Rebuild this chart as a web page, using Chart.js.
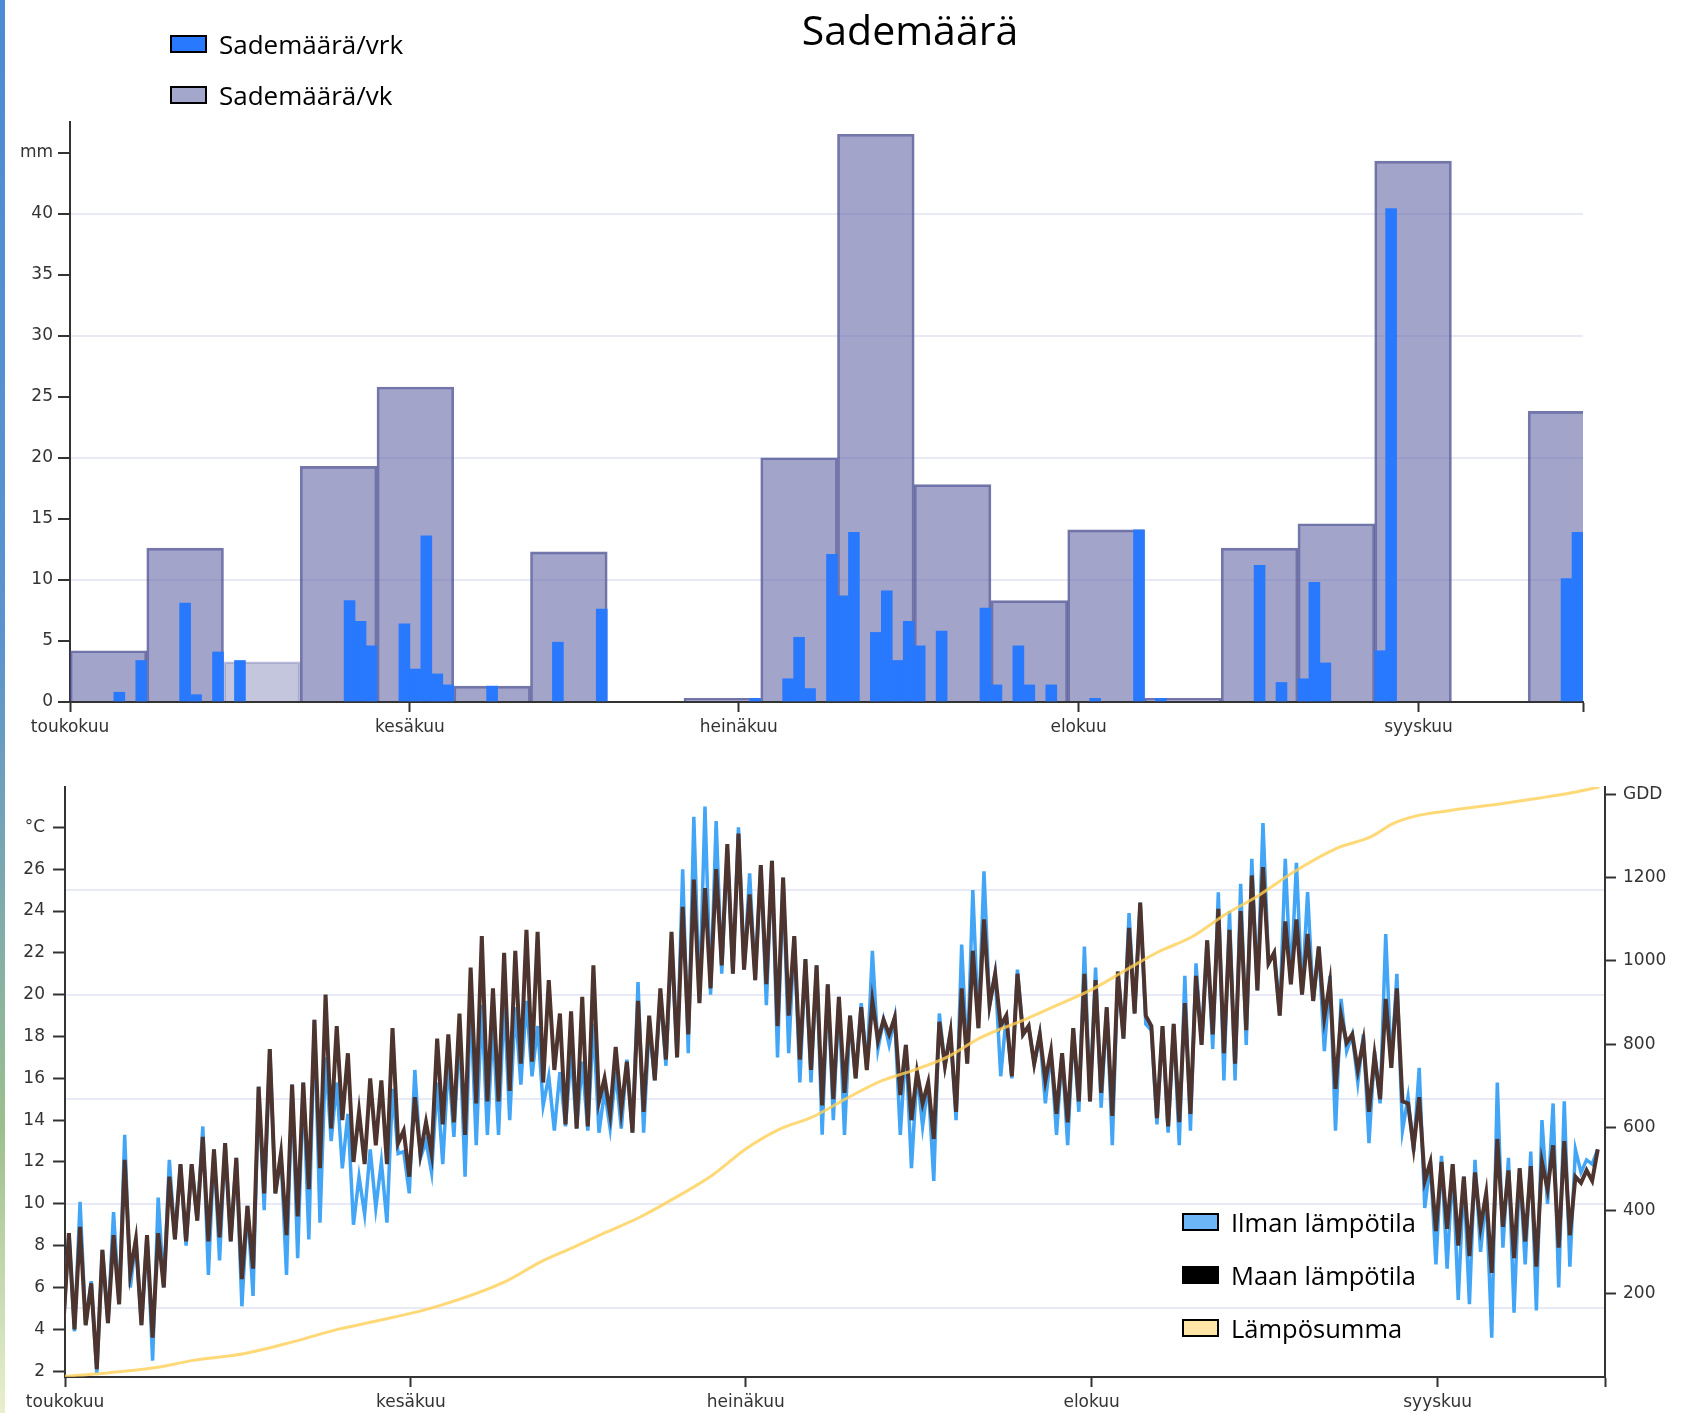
<!DOCTYPE html>
<html lang="fi">
<head>
  <meta charset="UTF-8">
  <meta name="viewport" content="width=device-width, initial-scale=1.0">
  <title>Sademäärä</title>
  <style>
    body { margin: 0; background: #fff; }
    .page { position: relative; width: 1693px; height: 1413px; overflow: hidden; font-family: "Open Sans", sans-serif; color: #000; }
    .edge { position: absolute; left: 0; top: 0; width: 5px; height: 100%; background: linear-gradient(#4c8bd5 0%, #5b93cf 45%, #9dbf8e 80%, #e9efcf 100%); }
    .chart { position: absolute; left: 0; width: 1693px; }
    #rainBox { top: 0; height: 745px; }
    #tempBox { top: 745px; height: 668px; }
    .title { position: absolute; top: 5px; left: 910px; transform: translateX(-50%); font-size: 41px; line-height: 48px; white-space: nowrap; }
    .legend { position: absolute; }
    .legend .item { display: flex; align-items: center; white-space: nowrap; }
    .legend .box { width: 37px; height: 18px; border: 2px solid #000; box-sizing: border-box; margin-right: 12px; }
    #rainLegend { left: 170px; top: 18px; font-size: 26px; }
    #rainLegend .item { height: 51px; }
    #tempLegend { left: 1182px; top: 1195px; font-size: 25.5px; }
    #tempLegend .item { height: 53px; }
  </style>
</head>
<body>
  <div class="page">
    <div class="edge"></div>
    <div class="chart" id="rainBox"><canvas id="rain"></canvas></div>
    <div class="chart" id="tempBox"><canvas id="temp"></canvas></div>
    <div class="title">Sademäärä</div>
    <div class="legend" id="rainLegend"></div>
    <div class="legend" id="tempLegend"></div>
  </div>
  <script src="https://cdn.jsdelivr.net/npm/chart.js@4/dist/chart.umd.min.js"></script>
  <script>
    // päivät laskettu 1.5. alkaen
    const monthStarts = [0, 31, 61, 92, 123];
    const monthNames = ['toukokuu', 'kesäkuu', 'heinäkuu', 'elokuu', 'syyskuu'];
    const lastDay = 138;

    // sademäärä / vrk (päivä, mm)
    const rainDays = [4, 6, 10, 11, 13, 15, 25, 26, 27, 30, 31, 32, 33, 34, 38, 44, 48, 62, 65, 66, 67, 69, 70, 71,
      73, 74, 75, 76, 77, 79, 83, 84, 86, 87, 89, 93, 97, 99, 108, 110, 112, 113, 114, 119, 120, 136, 137];
    const rainDaily = [0.8, 3.4, 8.1, 0.6, 4.1, 3.4, 8.3, 6.6, 4.6, 6.4, 2.7, 13.6, 2.3, 1.4, 1.3, 4.9, 7.6, 0.3, 1.9, 5.3, 1.1, 12.1, 8.7, 13.9,
      5.7, 9.1, 3.4, 6.6, 4.6, 5.8, 7.7, 1.4, 4.6, 1.4, 1.4, 0.3, 14.1, 0.3, 11.2, 1.6, 1.9, 9.8, 3.2, 4.2, 40.4, 10.1, 13.9];
    // sademäärä / vk
    const rainWeekly = [4.2, 12.6, 3.3, 19.3, 25.8, 1.3, 12.3, 0, 0.3, 20.0, 46.5, 17.8, 8.3, 14.1, 0.3, 12.6, 14.6, 44.3, 0, 23.8];
    const fadedWeek = 2;
    const rainTicks = [0, 5, 10, 15, 20, 25, 30, 35, 40, 45];

    // lämpötilat: päivän ylin ja sitä seuraava alin
    const tempStart = 4.2;
    const airHigh = [8.6, 10.1, 6.3, 7.8, 9.6, 13.3, 8.3, 8.5, 10.3, 12.1,
      11.9, 11.9, 13.7, 12.6, 12.9, 12.2, 9.9, 15.6, 17.4, 12.4,
      15.7, 15.8, 18.8, 17.0, 15.8, 14.3, 11.3, 12.6, 12.0, 15.5,
      12.5, 16.4, 13.0, 15.8, 16.8, 18.3, 19.7, 19.5, 18.6, 19.8,
      19.4, 19.7, 18.5, 16.1, 16.3, 17.2, 16.8, 18.6, 15.4, 16.3,
      16.9, 20.6, 18.5, 20.0, 22.6, 26.0, 28.5, 29.0, 28.3, 27.0,
      28.0, 25.8, 26.2, 26.4, 25.6, 22.8, 21.7, 21.4, 20.5, 19.9,
      19.0, 19.6, 22.1, 18.8, 18.9, 17.6, 16.3, 15.8, 19.1, 18.2,
      22.4, 25.0, 25.9, 21.0, 19.0, 21.2, 18.5, 18.1, 17.3, 17.2,
      18.4, 22.3, 21.3, 19.4, 21.1, 23.9, 24.4, 18.3, 18.5, 18.6,
      20.9, 21.5, 22.6, 24.9, 24.0, 25.3, 26.5, 28.2, 22.0, 26.5,
      26.3, 24.9, 22.3, 20.9, 19.8, 18.1, 18.1, 17.3, 22.9, 21.0,
      15.1, 16.5, 12.0, 12.3, 11.9, 11.3, 12.1, 10.5, 15.8, 12.2,
      11.7, 12.5, 14.0, 14.8, 14.9, 12.6, 12.1, 12.6];
    const airLow = [3.9, 4.2, 1.9, 4.3, 5.2, 6.0, 4.2, 2.5, 6.0, 8.3,
      8.0, 9.2, 6.6, 7.3, 8.2, 5.1, 5.6, 9.7, 10.5, 6.6,
      7.4, 8.3, 9.1, 13.0, 11.7, 9.0, 9.5, 9.8, 9.1, 12.4,
      10.5, 12.2, 11.5, 11.9, 13.2, 11.3, 12.8, 13.3, 13.3, 14.0,
      15.7, 16.1, 14.7, 13.5, 13.7, 13.6, 13.5, 13.4, 13.6, 13.6,
      13.4, 13.4, 15.9, 16.6, 17.0, 17.2, 19.6, 20.0, 21.0, 21.0,
      21.2, 20.7, 19.5, 17.0, 17.2, 15.8, 15.8, 13.3, 14.0, 13.3,
      16.0, 16.4, 17.4, 17.6, 13.3, 11.7, 13.7, 11.1, 16.6, 14.0,
      16.7, 18.4, 19.5, 16.1, 16.0, 18.1, 16.7, 14.8, 13.3, 12.8,
      14.4, 14.9, 14.6, 12.8, 17.9, 19.1, 18.6, 13.8, 13.4, 12.8,
      13.5, 17.6, 17.4, 15.9, 15.9, 17.6, 20.2, 21.5, 19.0, 20.5,
      20.0, 19.7, 17.3, 13.5, 17.3, 15.8, 12.9, 14.8, 16.5, 13.5,
      12.5, 9.8, 7.1, 6.9, 5.4, 5.2, 7.7, 3.6, 7.9, 4.8,
      7.1, 4.9, 10.0, 6.0, 7.0, 11.5, 11.9];
    const soilHigh = [8.6, 8.9, 6.2, 7.8, 8.5, 12.1, 8.3, 8.5, 8.6, 11.3,
      11.9, 11.9, 13.2, 12.6, 12.9, 12.2, 9.9, 15.6, 17.4, 12.4,
      15.7, 15.8, 18.8, 20.0, 18.5, 17.2, 14.4, 16.0, 15.9, 18.4,
      13.5, 15.1, 13.9, 17.9, 18.1, 19.1, 21.3, 22.8, 20.3, 22.0,
      22.1, 23.1, 23.0, 20.7, 19.1, 19.2, 19.9, 21.4, 16.0, 17.5,
      16.8, 19.7, 19.0, 20.3, 23.0, 24.2, 25.5, 25.1, 26.0, 27.2,
      27.7, 24.8, 26.2, 26.4, 25.6, 22.8, 21.7, 21.4, 20.5, 19.9,
      19.0, 19.4, 19.7, 18.8, 18.9, 17.6, 16.3, 15.8, 18.7, 18.2,
      20.3, 22.1, 23.6, 21.0, 19.0, 21.0, 18.5, 18.1, 17.3, 17.2,
      18.4, 21.0, 20.7, 19.4, 21.1, 23.2, 24.4, 18.5, 18.5, 18.6,
      19.6, 20.9, 22.6, 24.1, 23.1, 24.0, 25.7, 26.1, 22.0, 23.5,
      23.6, 22.9, 22.3, 20.6, 19.0, 18.1, 17.8, 17.1, 19.8, 20.3,
      14.8, 15.1, 12.0, 12.0, 11.9, 11.3, 11.5, 10.5, 13.1, 11.6,
      11.7, 11.8, 12.0, 12.8, 13.0, 11.3, 11.6, 12.6];
    const soilLow = [4.0, 4.2, 2.1, 4.3, 5.2, 6.7, 4.2, 3.6, 6.0, 8.3,
      8.2, 9.2, 8.2, 8.4, 8.2, 6.4, 6.9, 10.5, 10.5, 8.5,
      9.4, 10.7, 11.7, 13.6, 14.0, 12.0, 11.9, 12.8, 11.9, 12.9,
      11.3, 12.4, 12.4, 13.8, 13.9, 13.3, 14.8, 14.9, 14.9, 15.4,
      16.7, 16.8, 15.8, 16.4, 13.8, 13.6, 13.7, 14.9, 14.3, 14.5,
      13.4, 14.4, 15.9, 16.9, 17.0, 18.1, 19.6, 20.3, 21.4, 21.0,
      21.2, 20.7, 20.5, 18.5, 19.0, 16.9, 16.4, 14.7, 15.0, 15.3,
      16.0, 16.4, 17.8, 18.1, 15.2, 14.0, 14.8, 13.1, 16.6, 14.4,
      16.7, 18.4, 19.5, 18.5, 16.1, 18.1, 16.7, 15.9, 14.3, 13.9,
      14.9, 14.9, 15.3, 14.2, 17.9, 19.1, 19.0, 14.1, 13.7, 13.9,
      14.3, 17.6, 18.1, 17.2, 16.7, 18.3, 20.2, 21.5, 19.0, 20.5,
      20.0, 19.7, 18.9, 15.5, 17.7, 16.4, 14.4, 15.0, 16.5, 14.9,
      12.7, 11.1, 8.7, 8.8, 8.0, 7.5, 8.9, 6.7, 8.9, 7.4,
      8.2, 7.0, 10.7, 7.9, 8.5, 11.0, 11.1];
    const tempTicks = [2, 4, 6, 8, 10, 12, 14, 16, 18, 20, 22, 24, 26, 28];
    const tempGrid = [5, 10, 15, 20, 25];

    // lämpösumma
    const gddDays = [0, 3, 8, 11.5, 16, 20.5, 24.5, 28, 33.5, 39.5, 42.5, 45.5, 48.5, 51.5, 54.5, 58, 61, 64, 67, 70,
      73, 76, 79, 82, 86, 89, 92, 95, 98, 101, 104, 107, 110, 114, 117, 119, 121, 124, 129, 132, 135, 137.5];
    const gddValues = [2, 8, 22, 40, 56, 85, 115, 135, 171, 230, 275, 311, 348, 384, 428, 485, 548, 595, 625, 669,
      710, 737, 768, 815, 859, 895, 931, 977, 1022, 1058, 1112, 1158, 1212, 1271, 1298, 1330, 1348, 1361, 1379, 1391, 1404, 1418];
    const gddTicks = [200, 400, 600, 800, 1000, 1200, 1400];

    Chart.defaults.animation = false;
    Chart.defaults.font.family = 'DejaVu Sans';
    Chart.defaults.plugins.legend.display = false;
    Chart.defaults.plugins.tooltip.enabled = false;

    const axisColor = '#333';
    const tickFont = { family: 'DejaVu Sans', size: 17 };

    function setTicks(values) {
      return (axis) => { axis.ticks = values.map((v) => ({ value: v })); };
    }

    function monthAxis(height) {
      return {
        type: 'linear', min: 0, max: lastDay, offset: false,
        afterBuildTicks: setTicks(monthStarts.concat(lastDay)),
        afterFit: (axis) => { axis.height = height; },
        ticks: {
          autoSkip: false, maxRotation: 0, color: axisColor, font: tickFont, padding: 5,
          callback: (v) => monthNames[monthStarts.indexOf(v)] || ''
        },
        grid: { offset: false, drawOnChartArea: false, tickLength: 10, tickWidth: 2, tickColor: axisColor },
        border: { color: axisColor, width: 2 }
      };
    }

    function dayPoints(highs, lows) {
      const points = [{ x: -0.15, y: tempStart }];
      highs.forEach((h, d) => {
        points.push({ x: d + 0.35, y: h });
        if (d < lows.length) points.push({ x: d + 0.85, y: lows[d] });
      });
      return points;
    }

    const rainChart = new Chart(document.querySelector('#rain'), {
      type: 'bar',
      data: {
        datasets: [{
          label: 'Sademäärä/vrk',
          data: rainDays.map((d, i) => ({ x: d + 0.5, y: rainDaily[i] })),
          backgroundColor: '#2979ff',
          legendFill: '#2979ff',
          xAxisID: 'x',
          grouped: false,
          barPercentage: 1,
          categoryPercentage: 1,
          order: 0
        }, {
          label: 'Sademäärä/vk',
          data: rainWeekly.map((v, i) => ({ x: i * 7 + 3.5, y: v || null })),
          backgroundColor: (ctx) => ctx.dataIndex === fadedWeek ? 'rgba(100,104,166,0.38)' : 'rgba(100,104,166,0.6)',
          borderColor: (ctx) => ctx.dataIndex === fadedWeek ? 'rgba(100,104,166,0.45)' : 'rgba(70,74,140,0.75)',
          borderWidth: 2,
          legendFill: '#a4a7cc',
          xAxisID: 'xWeek',
          grouped: false,
          barPercentage: 1,
          categoryPercentage: 1,
          clip: { left: 4, top: 4, right: 0, bottom: 0 },
          order: 1
        }]
      },
      options: {
        responsive: true,
        maintainAspectRatio: false,
        devicePixelRatio: 1,
        layout: { padding: { top: 122, right: 110, bottom: 3, left: 0 } },
        scales: {
          x: monthAxis(40),
          xWeek: {
            type: 'linear', display: false, offset: false, min: 0, max: lastDay,
            grid: { offset: false },
            afterBuildTicks: setTicks([0])
          },
          y: {
            min: 0, max: 47.5,
            afterBuildTicks: setTicks(rainTicks),
            afterFit: (axis) => { axis.width = 70; },
            ticks: { color: axisColor, font: tickFont, padding: 5, callback: (v) => v === 45 ? 'mm' : v },
            grid: {
              color: (ctx) => ctx.tick && ctx.tick.value > 0 && ctx.tick.value % 10 === 0 ? '#e8ebf6' : 'rgba(0,0,0,0)',
              lineWidth: 2, tickLength: 12, tickWidth: 2, tickColor: axisColor
            },
            border: { color: axisColor, width: 2 }
          }
        }
      }
    });

    const tempChart = new Chart(document.querySelector('#temp'), {
      type: 'line',
      data: {
        datasets: [{
          label: 'Ilman lämpötila',
          data: dayPoints(airHigh, airLow),
          borderColor: '#42a5f5',
          legendFill: '#6cb6f8',
          borderWidth: 3.5,
          yAxisID: 'yT',
          order: 2
        }, {
          label: 'Maan lämpötila',
          data: dayPoints(soilHigh, soilLow),
          borderColor: '#4e342e',
          legendFill: '#000',
          borderWidth: 4,
          yAxisID: 'yT',
          order: 1
        }, {
          label: 'Lämpösumma',
          data: gddDays.map((d, i) => ({ x: d, y: gddValues[i] })),
          borderColor: 'rgba(255,207,85,0.8)',
          legendFill: '#ffe6a6',
          borderWidth: 3,
          cubicInterpolationMode: 'monotone',
          yAxisID: 'yG',
          order: 0
        }]
      },
      options: {
        responsive: true,
        maintainAspectRatio: false,
        devicePixelRatio: 1,
        elements: { point: { radius: 0 }, line: { tension: 0 } },
        layout: { padding: { top: 42, right: 0, bottom: 0, left: 0 } },
        scales: {
          x: monthAxis(36),
          yT: {
            position: 'left', min: 1.72, max: 29.93,
            afterBuildTicks: setTicks(tempTicks),
            afterFit: (axis) => { axis.width = 65; },
            ticks: { color: axisColor, font: tickFont, padding: 8, callback: (v) => v === 28 ? '°C' : v },
            grid: { drawOnChartArea: false, tickLength: 12, tickWidth: 2, tickColor: axisColor },
            border: { color: axisColor, width: 2 }
          },
          yGrid: {
            position: 'left', min: 1.72, max: 29.93,
            afterBuildTicks: setTicks(tempGrid),
            afterFit: (axis) => { axis.width = 0; },
            ticks: { display: false },
            grid: { color: '#e8ebf6', lineWidth: 2, drawTicks: false },
            border: { display: false }
          },
          yG: {
            position: 'right', min: 0, max: 1418,
            afterBuildTicks: setTicks(gddTicks),
            afterFit: (axis) => { axis.width = 88; },
            ticks: { color: axisColor, font: tickFont, padding: 7, callback: (v) => v === 1400 ? 'GDD' : v },
            grid: { drawOnChartArea: false, tickLength: 11, tickWidth: 2, tickColor: axisColor },
            border: { color: axisColor, width: 2 }
          }
        }
      }
    });

    function buildLegend(chart, el) {
      chart.data.datasets.forEach((ds) => {
        const item = document.createElement('div');
        item.className = 'item';
        const box = document.createElement('span');
        box.className = 'box';
        box.style.background = ds.legendFill;
        const text = document.createElement('span');
        text.textContent = ds.label;
        item.append(box, text);
        el.append(item);
      });
    }
    buildLegend(rainChart, document.querySelector('#rainLegend'));
    buildLegend(tempChart, document.querySelector('#tempLegend'));
  </script>
</body>
</html>
